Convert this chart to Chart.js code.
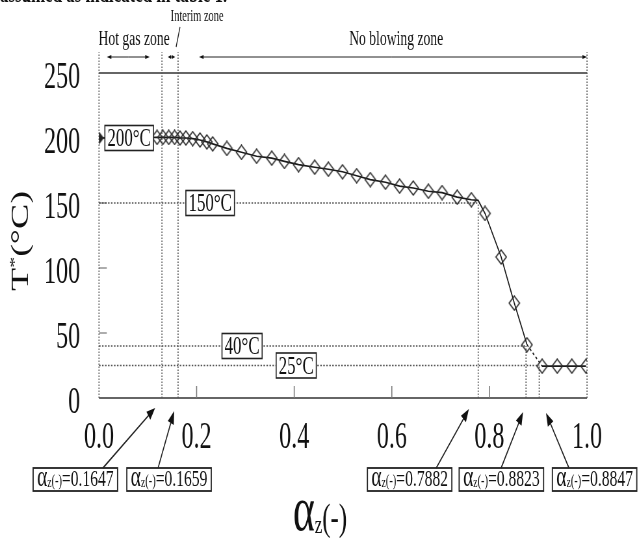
<!DOCTYPE html>
<html>
<head>
<meta charset="utf-8">
<script src="https://cdn.jsdelivr.net/npm/chart.js@4.4.0/dist/chart.umd.min.js"></script>
<style>
  html, body { margin: 0; padding: 0; overflow: hidden; background: #fff; }
  /* the original figure is squeezed horizontally, so draw wide and squeeze */
  #wrap { position: absolute; left: 0; top: 0; width: 983px; height: 538px;
          transform: scaleX(0.65); transform-origin: 0 0; }
</style>
</head>
<body>
<div id="wrap"><canvas id="chart"></canvas></div>
<script>
const K = 0.65;
const FULL_W = 983;
const SERIF = '"Liberation Serif", "DejaVu Serif", serif';

// curve: alpha_z (-) vs T* (°C)
const alphaZ = [0.000, 0.119, 0.131, 0.143, 0.155, 0.166, 0.178, 0.192, 0.207, 0.221, 0.233,
  0.262, 0.292, 0.323, 0.354, 0.380, 0.409, 0.442, 0.470, 0.499, 0.528, 0.556, 0.587,
  0.616, 0.644, 0.675, 0.703, 0.734, 0.763, 0.777, 0.791, 0.824, 0.851, 0.877,
  0.908, 0.939, 0.969, 0.998];
const tempC = [200, 200.5, 200.5, 200.5, 200.5, 200, 200, 199.5, 198.5, 197, 195.5,
  192, 189, 186, 184.5, 182, 179.5, 177.5, 176, 174, 171, 168, 166,
  163, 161.5, 159, 158, 154.5, 152.5, 152, 142, 108.5, 73, 41,
  24.5, 24.5, 24.5, 24.5];
const KNEE = 29;       // bend of the line, no marker
const DASH_FROM = 33;  // segment drawn dashed

const xTicks = [0, 0.2, 0.4, 0.6, 0.8, 1.0];
const yTicks = [0, 50, 100, 150, 200, 250];

// reference temperatures and where their guide lines stop
const guideTemps = [150, 40, 25];
const guideEnds = [0.777, 0.875, 0.902];
const zoneBounds = [0.129, 0.162];

const tempLabels = ["200°C", "150°C", "40°C", "25°C"];
const tempLabelT = [200, 150, 40, 25];
const tempLabelA = [0.012, 0.178, 0.252, 0.363];

const markAlpha = [0.1647, 0.1659, 0.7882, 0.8823, 0.8847];
const markBoxA = [-0.135, 0.057, 0.550, 0.738, 0.929];
const markFromA = [0.008, 0.121, 0.691, 0.824, 0.963];
const markTipA = [0.115, 0.154, 0.758, 0.869, 0.916];
const markTipDy = [10, 13, 11, 14, 15];

function line(ctx, x1, y1, x2, y2) {
  ctx.beginPath(); ctx.moveTo(x1, y1); ctx.lineTo(x2, y2); ctx.stroke();
}

function arrow(ctx, x1, y1, x2, y2, len, half) {
  const a = Math.atan2(y2 - y1, x2 - x1);
  const c = Math.cos(a), s = Math.sin(a);
  line(ctx, x1, y1, x2 - c * len * 0.7, y2 - s * len * 0.7);
  ctx.beginPath();
  ctx.moveTo(x2, y2);
  ctx.lineTo(x2 - len * c + half * s, y2 - len * s - half * c);
  ctx.lineTo(x2 - len * c - half * s, y2 - len * s + half * c);
  ctx.closePath(); ctx.fill();
}

function runs(ctx, parts, x, y, measureOnly) {
  let cx = x;
  for (const [t, size, dy] of parts) {
    ctx.font = size + 'px ' + SERIF;
    if (!measureOnly) ctx.fillText(t, cx, y + dy);
    cx += ctx.measureText(t).width;
  }
  return cx - x;
}

// diamond marker, wider than tall before the squeeze
function diamond(w, h, fill) {
  const c = document.createElement('canvas');
  c.width = w; c.height = h;
  const g = c.getContext('2d');
  g.beginPath();
  g.moveTo(w / 2, 1); g.lineTo(w - 1.5, h / 2); g.lineTo(w / 2, h - 1); g.lineTo(1.5, h / 2);
  g.closePath();
  if (fill) { g.fillStyle = '#222'; g.fill(); }
  g.strokeStyle = '#2a2a2a';
  g.lineWidth = 1.6;
  g.stroke();
  return c;
}
const openMark = diamond(19, 16, false);
const filledMark = diamond(16, 13, true);

const figure = {
  id: 'figure',
  beforeDatasetsDraw(chart) {
    const { ctx, scales: { x, y } } = chart;
    const X = v => x.getPixelForValue(v), Y = v => y.getPixelForValue(v);
    ctx.save();
    ctx.strokeStyle = '#333';
    ctx.lineWidth = 1.4;
    line(ctx, X(0), Y(0), X(1), Y(0));
    line(ctx, X(0), Y(250), X(1), Y(250));

    // tick marks
    ctx.lineWidth = 1.6;
    ctx.strokeStyle = '#777';
    xTicks.slice(1, -1).forEach(v => line(ctx, X(v), Y(0), X(v), Y(0) - 12));
    ctx.lineWidth = 1.2;
    yTicks.slice(1, -1).forEach(v => line(ctx, X(0), Y(v), X(0) + 12, Y(v)));

    // dotted verticals reaching above the frame
    ctx.strokeStyle = '#555';
    ctx.lineWidth = 1.6;
    ctx.setLineDash([1.5, 1.5]);
    [0, zoneBounds[0], zoneBounds[1], 1].forEach(v => line(ctx, X(v), Y(0), X(v), Y(266)));
    guideEnds.forEach((v, i) => line(ctx, X(v), Y(0), X(v), Y(guideTemps[i])));

    // dotted horizontals
    ctx.lineWidth = 1.3;
    ctx.setLineDash([2.4, 2.2]);
    guideTemps.forEach((t, i) => line(ctx, X(0), Y(t), X(guideEnds[i]), Y(t)));
    ctx.restore();
  },
  afterDatasetsDraw(chart) {
    const { ctx, scales: { x, y } } = chart;
    const X = v => x.getPixelForValue(v), Y = v => y.getPixelForValue(v);
    ctx.save();
    ctx.fillStyle = '#111';
    ctx.strokeStyle = '#222';

    // temperature boxes
    ctx.textBaseline = 'middle';
    tempLabels.forEach((txt, i) => {
      ctx.font = '26px ' + SERIF;
      const w = ctx.measureText(txt).width + 8;
      const bx = X(tempLabelA[i]), by = Y(tempLabelT[i]) - 12.5;
      ctx.fillStyle = '#fff';
      ctx.fillRect(bx, by, w, 25);
      ctx.lineWidth = 1.6;
      ctx.strokeRect(bx, by, w, 25);
      ctx.fillStyle = '#111';
      ctx.fillText(txt, bx + 4, by + 14);
    });

    // tick labels
    ctx.font = '37px ' + SERIF;
    ctx.textAlign = 'right';
    yTicks.forEach(v => ctx.fillText(String(v), X(0) - 29, Y(v) + 5));
    ctx.textAlign = 'center';
    xTicks.forEach(v => ctx.fillText(v.toFixed(1), X(v), Y(0) + 40));

    // alpha markers under the axis
    ctx.textAlign = 'left';
    ctx.textBaseline = 'alphabetic';
    const base = Y(0);
    markAlpha.forEach((v, i) => {
      const parts = [['α', 30, 0], ['z', 15, 1], ['(-)', 16, 0], ['=' + v.toFixed(4), 24, 0]];
      const w = runs(ctx, parts, 0, 0, true) + 12;
      const bx = X(markBoxA[i]), by = base + 70;
      ctx.lineWidth = 1.8;
      ctx.strokeRect(bx, by, w, 23);
      runs(ctx, parts, bx + 6, by + 18);
      ctx.lineWidth = 1.6;
      arrow(ctx, X(markFromA[i]), by, X(markTipA[i]), base + markTipDy[i], 13, 5);
    });

    // axis titles
    const tp = [['α', 64, 0], ['z', 26, 3], ['(-)', 38, 0]];
    const tw = runs(ctx, tp, 0, 0, true);
    runs(ctx, tp, 320 / K - tw / 2, 530);

    ctx.save();
    ctx.translate(30, 241);
    ctx.rotate(-Math.PI / 2);
    const yp = [['T', 38, 0], ['*', 22, -14], ['(°C)', 38, 0]];
    const yw = runs(ctx, yp, 0, 0, true);
    runs(ctx, yp, -yw / 2, 13);
    ctx.restore();

    // zone annotations on top
    ctx.textAlign = 'center';
    ctx.textBaseline = 'middle';
    ctx.font = '21px ' + SERIF;
    ctx.fillText('Hot gas zone', X(0.072), Y(275.4));
    ctx.fillText('No blowing zone', X(0.609), Y(275.4));
    ctx.font = '16px ' + SERIF;
    ctx.fillText('Interim zone', X(0.201), Y(293));
    ctx.lineWidth = 1.3;
    line(ctx, X(0.166), Y(285.4), X(0.158), Y(270));
    const ay = Y(262.3);
    ctx.lineWidth = 1;
    arrow(ctx, X(0.06), ay, X(0.016), ay, 7, 2);
    arrow(ctx, X(0.06), ay, X(0.104), ay, 7, 2);
    arrow(ctx, X(0.1485), ay, X(0.141), ay, 5, 2);
    arrow(ctx, X(0.1485), ay, X(0.156), ay, 5, 2);
    arrow(ctx, X(0.6), ay, X(0.205), ay, 7, 2);
    arrow(ctx, X(0.6), ay, X(1.0), ay, 7, 2);

    // bottom of the running text above the figure
    ctx.textAlign = 'left';
    ctx.textBaseline = 'alphabetic';
    ctx.font = 'bold 26px ' + SERIF;
    ctx.fillText('assumed as indicated in table 1.', 0, 2);
    ctx.restore();
  }
};

const points = alphaZ.map((a, i) => ({ x: a, y: tempC[i] }));

new Chart(document.getElementById('chart'), {
  type: 'line',
  data: {
    datasets: [{
      data: points,
      borderColor: '#1a1a1a',
      borderWidth: 1.6,
      pointStyle: points.map((p, i) => (i === 0 ? filledMark : openMark)),
      pointRadius: points.map((p, i) => (i === KNEE ? 0 : 8)),
      tension: 0,
      segment: {
        borderDash: ctx => (ctx.p0DataIndex === DASH_FROM ? [3, 3] : undefined)
      }
    }]
  },
  options: {
    responsive: true,
    maintainAspectRatio: false,
    animation: false,
    layout: { padding: { left: 99 / K, right: FULL_W - 587 / K, top: 73, bottom: 140 } },
    scales: {
      x: { type: 'linear', min: 0, max: 1, display: false },
      y: { min: 0, max: 250, display: false }
    },
    plugins: { legend: { display: false }, tooltip: { enabled: false } }
  },
  plugins: [figure]
});
</script>
</body>
</html>
